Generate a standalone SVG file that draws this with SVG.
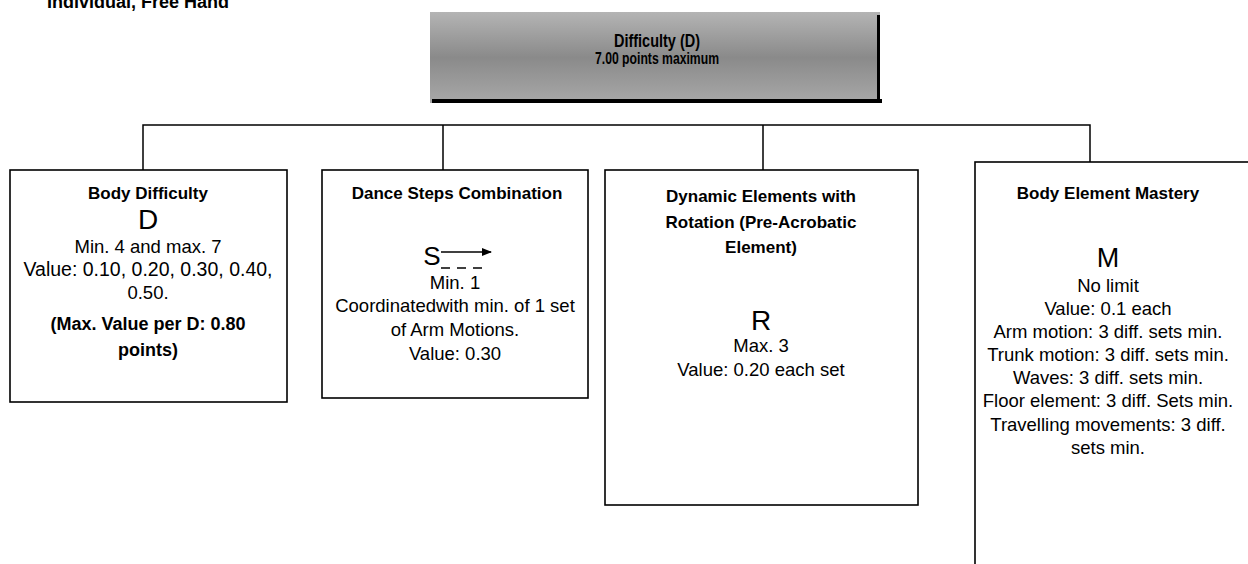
<svg xmlns="http://www.w3.org/2000/svg" width="1248" height="564" viewBox="0 0 1248 564">
<defs>
<style>
.box{fill:#fff;stroke:#000;stroke-width:1.6}
.t{font-family:"Liberation Sans",Arial,sans-serif;font-size:18.5px;fill:#000;text-anchor:middle}
.b{font-family:"Liberation Sans",Arial,sans-serif;font-size:17px;font-weight:bold;fill:#000;text-anchor:middle}
.big{font-family:"Liberation Sans",Arial,sans-serif;font-size:28px;fill:#000;text-anchor:middle}
.conn{fill:none;stroke:#000;stroke-width:1.5}
</style>
<linearGradient id="gv" x1="0" y1="0" x2="0" y2="1">
<stop offset="0" stop-color="#b4b4b4"/>
<stop offset="0.5" stop-color="#8a8a8a"/>
<stop offset="1" stop-color="#a8a8a8"/>
</linearGradient>
<marker id="ah" markerWidth="10" markerHeight="8" refX="9" refY="4" orient="auto" markerUnits="userSpaceOnUse">
<path d="M0,0 L10,4 L0,8 Z" fill="#000"/>
</marker>
</defs>
<rect width="1248" height="564" fill="#fff"/>
<text x="47" y="8" style="font-family:'Liberation Sans',Arial,sans-serif;font-size:18px;font-weight:bold">Individual, Free Hand</text>

<g id="connectors">
<path class="conn" d="M143,170 V125 H1090 V162 M443,125 V170 M763,125 V170"/>
</g>

<g id="node-difficulty">
<rect x="430" y="12" width="450" height="91" fill="url(#gv)"/>
<rect x="432" y="99" width="450" height="4" fill="#000"/>
<rect x="877" y="15" width="3" height="88" fill="#000"/>
<text class="b" x="657" y="47" style="font-size:18px" textLength="86" lengthAdjust="spacingAndGlyphs">Difficulty (D)</text>
<text class="b" x="657" y="64" style="font-size:16.5px" textLength="124" lengthAdjust="spacingAndGlyphs">7.00 points maximum</text>
</g>

<g id="node-body-difficulty">
<rect class="box" x="10" y="170" width="277" height="232"/>
<text class="b" x="148" y="199">Body Difficulty</text>
<text class="big" x="148" y="229">D</text>
<text class="t" x="148" y="253">Min. 4 and max. 7</text>
<text class="t" x="148" y="276" style="font-size:19.5px">Value: 0.10, 0.20, 0.30, 0.40,</text>
<text class="t" x="148" y="299">0.50.</text>
<text class="b" x="148" y="330" style="font-size:18px">(Max. Value per D: 0.80</text>
<text class="b" x="148" y="356" style="font-size:18px">points)</text>
</g>

<g id="node-dance-steps">
<rect class="box" x="322" y="170" width="266" height="228"/>
<text class="b" x="457" y="199">Dance Steps Combination</text>
<text class="big" x="432" y="265" style="font-size:26px">S</text>
<line x1="441" y1="252" x2="491" y2="252" stroke="#000" stroke-width="1.6" marker-end="url(#ah)"/>
<path d="M441,268 H450 M457,268 H466 M473,268 H482" stroke="#000" stroke-width="1.4"/>
<text class="t" x="455" y="289">Min. 1</text>
<text class="t" x="455" y="312">Coordinatedwith min. of 1 set</text>
<text class="t" x="455" y="336">of Arm Motions.</text>
<text class="t" x="455" y="360">Value: 0.30</text>
</g>

<g id="node-dynamic">
<rect class="box" x="605" y="170" width="313" height="335"/>
<text class="b" x="761" y="202">Dynamic Elements with</text>
<text class="b" x="761" y="228">Rotation (Pre-Acrobatic</text>
<text class="b" x="761" y="253">Element)</text>
<text class="big" x="761" y="330">R</text>
<text class="t" x="761" y="352">Max. 3</text>
<text class="t" x="761" y="376">Value: 0.20 each set</text>
</g>

<g id="node-mastery">
<rect class="box" x="975" y="162" width="300" height="420"/>
<text class="b" x="1108" y="199">Body Element Mastery</text>
<text class="big" x="1108" y="267" style="font-size:27px">M</text>
<text class="t" x="1108" y="292">No limit</text>
<text class="t" x="1108" y="315">Value: 0.1 each</text>
<text class="t" x="1108" y="338">Arm motion: 3 diff. sets min.</text>
<text class="t" x="1108" y="361">Trunk motion: 3 diff. sets min.</text>
<text class="t" x="1108" y="384">Waves: 3 diff. sets min.</text>
<text class="t" x="1108" y="407">Floor element: 3 diff. Sets min.</text>
<text class="t" x="1108" y="431">Travelling movements: 3 diff.</text>
<text class="t" x="1108" y="454">sets min.</text>
</g>
</svg>
